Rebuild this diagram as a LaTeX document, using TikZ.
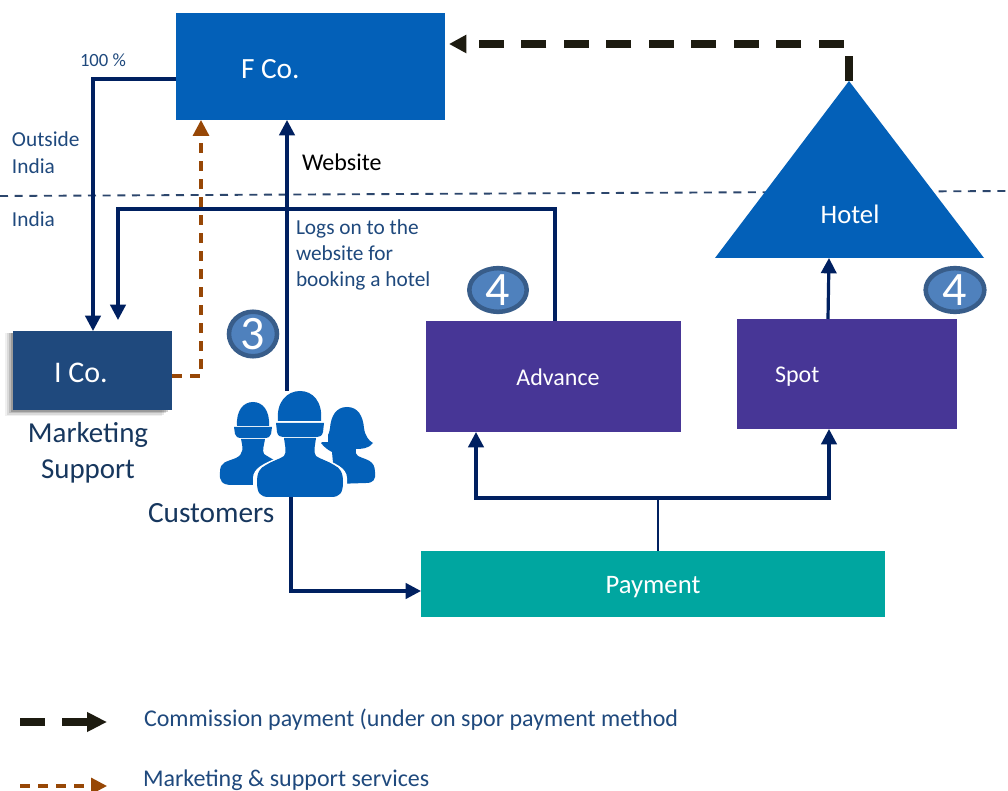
\documentclass[tikz,border=0pt]{standalone}
\usepackage{fontspec}
\setmainfont{Carlito}
\usetikzlibrary{arrows.meta,calc}
\definecolor{fblue}{RGB}{3,96,184}
\definecolor{icoblue}{RGB}{31,73,125}
\definecolor{purp}{RGB}{71,54,150}
\definecolor{teal2}{RGB}{0,166,160}
\definecolor{navy}{RGB}{0,32,96}
\definecolor{brownl}{RGB}{151,71,6}
\definecolor{blk}{RGB}{29,27,16}
\definecolor{txt}{RGB}{31,73,125}
\definecolor{txtd}{RGB}{23,55,94}
\definecolor{badgefill}{RGB}{79,129,189}
\definecolor{badgeline}{RGB}{56,93,138}
\definecolor{borderl}{RGB}{44,70,108}
\newcommand{\fs}[1]{\fontsize{#1}{#1}\selectfont}
\tikzset{
  x=0.75pt,y=-0.75pt,
  box/.style={draw=none,inner sep=0pt,outer sep=0pt},
  lab/.style={inner sep=0pt,outer sep=0pt,anchor=base west},
  labc/.style={inner sep=0pt,outer sep=0pt,anchor=base},
  flow/.style={draw=navy,line width=2.4pt,-{Triangle[length=11.5pt,width=11.5pt]}},
  flowplain/.style={draw=navy,line width=1.4pt},
  mark support/.style={draw=brownl,line width=2.4pt,dash pattern=on 7.5pt off 6pt,-{Triangle[length=12pt,width=12pt]}},
  commission/.style={draw=blk,line width=5.4pt,dash pattern=on 18.75pt off 13.1pt,-{Triangle[length=13pt,width=13pt]}},
  badge/.style={ellipse,draw=badgeline,line width=3.4pt,fill=badgefill,inner sep=0pt,text=white},
}
\usetikzlibrary{shapes.geometric}
\begin{document}
\begin{tikzpicture}
\useasboundingbox (0,0) rectangle (1008,791);
\fill[white] (0,0) rectangle (1008,791);
% border line
\coordinate (bl) at (0,196);
\coordinate (br) at (1008,191);
\draw[borderl,line width=1.4pt,dash pattern=on 6pt off 5pt] (bl) -- (br);
% boxes
\node[box,fill=fblue,minimum width=201.75pt,minimum height=80.25pt] (fco) at (310.5,66.5) {};
\foreach \o/\g in {.06/8,.09/6,.13/4,.18/2}{
  \fill[black,opacity=\o] (13-\g,333) rectangle (170-\g,410+\g*.8);
}
\node[box,fill=icoblue,minimum width=119.25pt,minimum height=59.25pt] (ico) at (92.5,370.5) {};
\node[box,fill=purp,minimum width=191.25pt,minimum height=83.25pt] (adv) at (553.5,376.5) {};
\node[box,fill=purp,minimum width=165pt,minimum height=82.5pt] (spot) at (847,374) {};
\node[box,fill=teal2,minimum width=348pt,minimum height=49.5pt] (pay) at (653,584) {};
% hotel triangle
\coordinate (apex) at (849,81);
\coordinate (hbl) at (715,258);
\coordinate (hbr) at (984,258);
\fill[fblue] (apex) -- (hbr) -- (hbl) -- cycle;
% people icon
\coordinate (custtop) at (287,391);
\coordinate (custbot) at (291,497);
\begin{scope}[fblue]
  % left person
  \fill (237,426) .. controls (236,411) and (243,402) .. (253,402) .. controls (263,402) and (270,411) .. (269,426) -- cycle;
  \fill (234,427) -- (272,427) -- (271,434) .. controls (270,437) and (268,438) .. (266,438) -- (240,438) .. controls (238,438) and (236,437) .. (235,434) -- cycle;
  \fill (241,439) -- (265,439) .. controls (264,446) and (262,450) .. (264,454) .. controls (267,456) and (272,459) .. (276,461) -- (262,485) -- (232,485) .. controls (222,485) and (219,481) .. (220,472) .. controls (220,462) and (226,462) .. (236,458) .. controls (244,454) and (243,448) .. (241,439) -- cycle;
  % right person
  \fill (347,407) .. controls (358,407) and (363,416) .. (364,428) .. controls (365,436) and (369,441) .. (373,443) .. controls (369,449) and (360,449) .. (356,449) .. controls (355,452) and (356,455) .. (358,456) .. controls (366,460) and (375,460) .. (375,472) .. controls (376,480) and (373,483) .. (366,483) -- (335,484) -- (332,452) .. controls (328,450) and (324,447) .. (321,443) .. controls (325,441) and (329,436) .. (330,428) .. controls (331,416) and (336,407) .. (347,407) -- cycle;
  % centre person with white halo
  \path[fill=white] (253,497) -- (253,478) .. controls (253,468) and (265,463) .. (277,458) -- (322,458) .. controls (335,463) and (347,468) .. (347,478) -- (347,500) -- cycle;
  \path[fill=white] (272,418) rectangle (328,442);
  \fill (278,421) .. controls (276,402) and (287,391) .. (300,391) .. controls (313,391) and (323,402) .. (321,421) -- cycle;
  \fill (276,423) -- (324,423) -- (323,432) .. controls (322,436) and (320,437) .. (317,437) -- (283,437) .. controls (280,437) and (278,436) .. (277,432) -- cycle;
  \fill (284,438) -- (316,438) .. controls (315,446) and (313,452) .. (316,456) .. controls (320,459) and (328,461) .. (334,465) .. controls (340,468) and (343,472) .. (343,482) .. controls (343,493) and (340,497) .. (331,497) -- (269,497) .. controls (260,497) and (257,493) .. (257,482) .. controls (257,472) and (260,468) .. (266,465) .. controls (272,461) and (280,459) .. (284,456) .. controls (287,452) and (285,446) .. (284,438) -- cycle;
\end{scope}
% connectors
\draw[flow] (fco.west |- 0,79) -| (ico.north -| 93,0);
\draw[flow] (adv.north -| 555,0) |- (118,209) -- (118,320);
\draw[mark support] (ico.east |- 0,376) -| (fco.south -| 201,0);
\draw[flow] (custtop) -- (fco.south -| custtop);
\draw[flow] (custbot) |- (pay.west |- 0,591);
\coordinate (branch) at (658,498);
\draw[flowplain] (pay.north -| branch) -- (branch);
\draw[flow] (branch) -| (adv.south -| 476,0);
\draw[flow] (branch) -| (spot.south -| 829,0);
\draw[flow] (spot.north -| 828,0) -- (829,258);
\coordinate (corner) at (849,44);
\coordinate (ftip) at (449,44);
\draw[commission] (apex) -- (corner) -- (ftip);
% badges
\node[badge,minimum width=36pt,minimum height=33pt,font=\fs{36pt}] (b3) at (253,334) {3};
\node[badge,minimum width=43pt,minimum height=30pt,font=\fs{36pt}] (b4a) at (498,290) {4};
\node[badge,minimum width=44pt,minimum height=30pt,font=\fs{36pt}] (b4b) at (955,290) {4};
% texts
\node[lab,text=white,font=\fs{22pt}] (tf) at (241,78.5) {F Co.};
\node[lab,text=white,font=\fs{22.5pt}] (ti) at (54,383) {I Co.};
\node[labc,text=white,font=\fs{18pt}] (ta) at (558,385.5) {Advance};
\node[lab,text=white,font=\fs{18pt}] (ts) at (775,383) {Spot};
\node[labc,text=white,font=\fs{20pt}] (tp) at (653,594) {Payment};
\node[labc,text=white,font=\fs{20pt}] (th) at (850,224) {Hotel};
\node[lab,text=txt,font=\fs{14pt}] (t100) at (80,67) {100 \%};
\node[lab,text=txt,font=\fs{16pt}] (to) at (12,147) {Outside};
\node[lab,text=txt,font=\fs{16pt}] (to2) at (12,174) {India};
\node[lab,text=txt,font=\fs{16pt}] (ti2) at (12,227) {India};
\node[lab,text=black,font=\fs{18pt}] (tw) at (302,171) {Website};
\node[lab,text=txt,font=\fs{16pt}] (tl1) at (296,235) {Logs on to the};
\node[lab,text=txt,font=\fs{16pt}] (tl2) at (296,261) {website for};
\node[lab,text=txt,font=\fs{16pt}] (tl3) at (296,287) {booking a hotel};
\node[labc,text=txtd,font=\fs{21.7pt}] (tm1) at (88,443) {Marketing};
\node[labc,text=txtd,font=\fs{21.7pt}] (tm2) at (88,479) {Support};
\node[lab,text=txtd,font=\fs{22pt}] (tc) at (148,523) {Customers};
\node[lab,text=txt,font=\fs{18pt}] (tl) at (144,726) {Commission payment (under on spor payment method};
\node[lab,text=txt,font=\fs{18pt}] (tl4) at (143,787) {Marketing \& support services};
% legend
\coordinate (l1a) at (20,722);
\coordinate (l1b) at (107,722);
\coordinate (l2a) at (20,786);
\coordinate (l2b) at (107,786);
\draw[commission,-{Triangle[length=15pt,width=14pt]},dash pattern=on 18.75pt off 13.1pt on 30pt off 0pt] (l1a) -- (l1b);
\draw[mark support] (l2a) -- (l2b);
\end{tikzpicture}
\end{document}
